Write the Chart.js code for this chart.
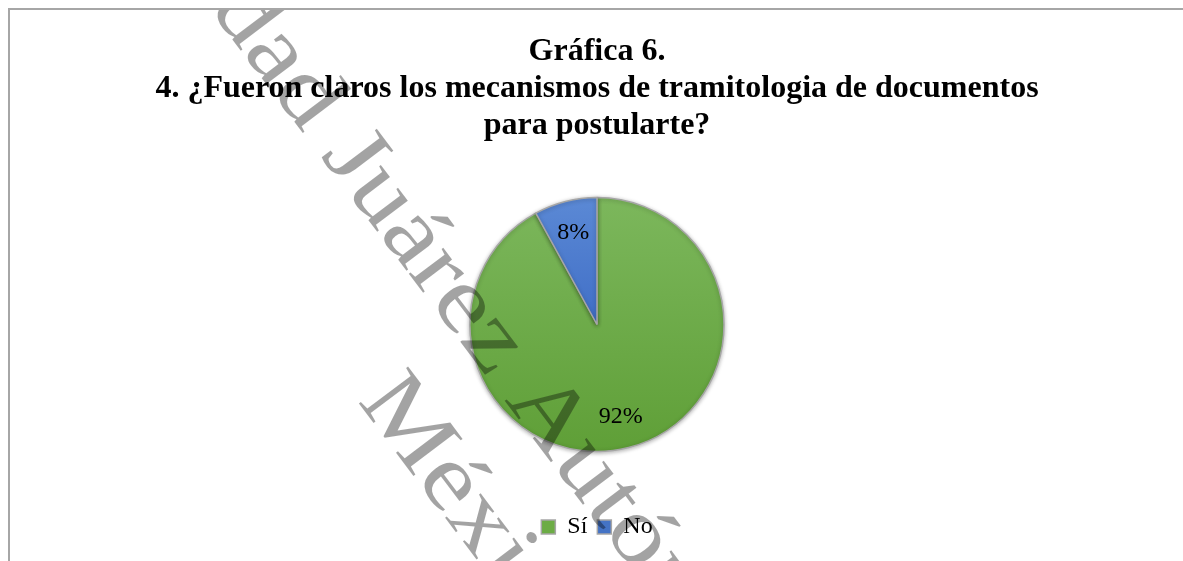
<!DOCTYPE html>
<html>
<head>
<meta charset="utf-8">
<script src="https://cdn.jsdelivr.net/npm/chart.js@4/dist/chart.umd.min.js"></script>
<style>
  html, body { margin: 0; padding: 0; background: #fff; overflow: hidden; }
  #frame {
    position: absolute; left: 8px; top: 8px;
    width: 1174px; height: 600px;
    border: 2px solid #a6a6a6;
  }
  #chart { position: absolute; left: 0; top: 0; }
</style>
</head>
<body>
<div id="frame"><canvas id="chart" width="1174" height="551"></canvas></div>
<script>
'use strict';

const titleLines = [
    'Gráfica 6.',
    '4. ¿Fueron claros los mecanismos de tramitologia de documentos',
    'para postularte?'
];
const categories = ['Sí', 'No'];
const percents = [92, 8];
const sliceLabels = ['92%', '8%'];
const sliceTop = ['#7cb75c', '#5b89d5'];
const sliceBottom = ['#5f9f37', '#2554b8'];
const legendColors = ['#6cac45', '#4473c5'];
const watermarkLines = ['Universidad Juárez Autónoma de Tabasco', 'México'];

const serif = '"Liberation Serif", "Times New Roman", serif';

function sliceFill(ctx) {
    const i = ctx.dataIndex;
    const area = ctx.chart.chartArea;
    if (!area) return sliceBottom[i];
    const cy = (area.top + area.bottom) / 2;
    const g = ctx.chart.ctx.createLinearGradient(0, cy - 127, 0, cy + 127);
    g.addColorStop(0, sliceTop[i]);
    g.addColorStop(1, sliceBottom[i]);
    return g;
}

// percentage labels inside the slices
const sliceText = {
    id: 'sliceText',
    afterDatasetsDraw(chart) {
        const ctx = chart.ctx;
        const arcs = chart.getDatasetMeta(0).data;
        ctx.save();
        ctx.font = '24px ' + serif;
        ctx.fillStyle = '#000';
        ctx.textAlign = 'center';
        ctx.textBaseline = 'middle';
        arcs.forEach((arc, i) => {
            const p = arc.getProps(['x', 'y', 'startAngle', 'endAngle', 'outerRadius'], true);
            const mid = (p.startAngle + p.endAngle) / 2;
            const r = p.outerRadius * 0.75;
            ctx.fillText(sliceLabels[i], p.x + Math.cos(mid) * r, p.y + Math.sin(mid) * r);
        });
        ctx.restore();
    }
};

// soft shadow under the pie
const pieShadow = {
    id: 'pieShadow',
    beforeDatasetsDraw(chart) {
        const ctx = chart.ctx;
        ctx.save();
        ctx.shadowColor = 'rgba(0,0,0,0.3)';
        ctx.shadowBlur = 4;
        ctx.shadowOffsetY = 1;
    },
    afterDatasetsDraw(chart) {
        chart.ctx.restore();
    }
};

// document watermark laid over the chart
const watermark = {
    id: 'watermark',
    afterDraw(chart) {
        const ctx = chart.ctx;
        ctx.save();
        ctx.translate(347, 391);
        ctx.rotate(53 * Math.PI / 180);
        ctx.scale(1.16, 1);
        ctx.font = '94px ' + serif;
        ctx.fillStyle = 'rgba(0,0,0,0.36)';
        ctx.textAlign = 'left';
        ctx.textBaseline = 'alphabetic';
        const pre = ctx.measureText('Universidad ').width;
        ctx.fillText(watermarkLines[0], -188 - pre, -118);
        ctx.fillText(watermarkLines[1], 0, 0);
        ctx.restore();
    }
};

const chart = new Chart(document.getElementById('chart'), {
    type: 'pie',
    data: {
        labels: categories,
        datasets: [{
            data: percents,
            backgroundColor: sliceFill,
            borderColor: '#a6a6a6',
            borderWidth: 1.5,
            radius: 127,
        }],
    },
    options: {
        responsive: false,
        animation: false,
        layout: { padding: { top: 0, bottom: 12, left: 0, right: 0 } },
        plugins: {
            title: {
                display: true,
                text: titleLines,
                color: '#000',
                font: { family: serif, size: 32, weight: 'bold', lineHeight: 37 / 32 },
                padding: { top: 23, bottom: 0 },
            },
            legend: {
                position: 'bottom',
                labels: {
                    color: '#000',
                    font: { family: serif, size: 24 },
                    boxWidth: 14,
                    boxHeight: 14,
                    padding: 10,
                    generateLabels(c) {
                        const items = Chart.overrides.pie.plugins.legend.labels.generateLabels(c);
                        items.forEach((it, i) => { it.fillStyle = legendColors[i]; });
                        return items;
                    },
                },
            },
            tooltip: { enabled: false },
        },
    },
    plugins: [pieShadow, sliceText, watermark],
});
</script>
</body>
</html>
